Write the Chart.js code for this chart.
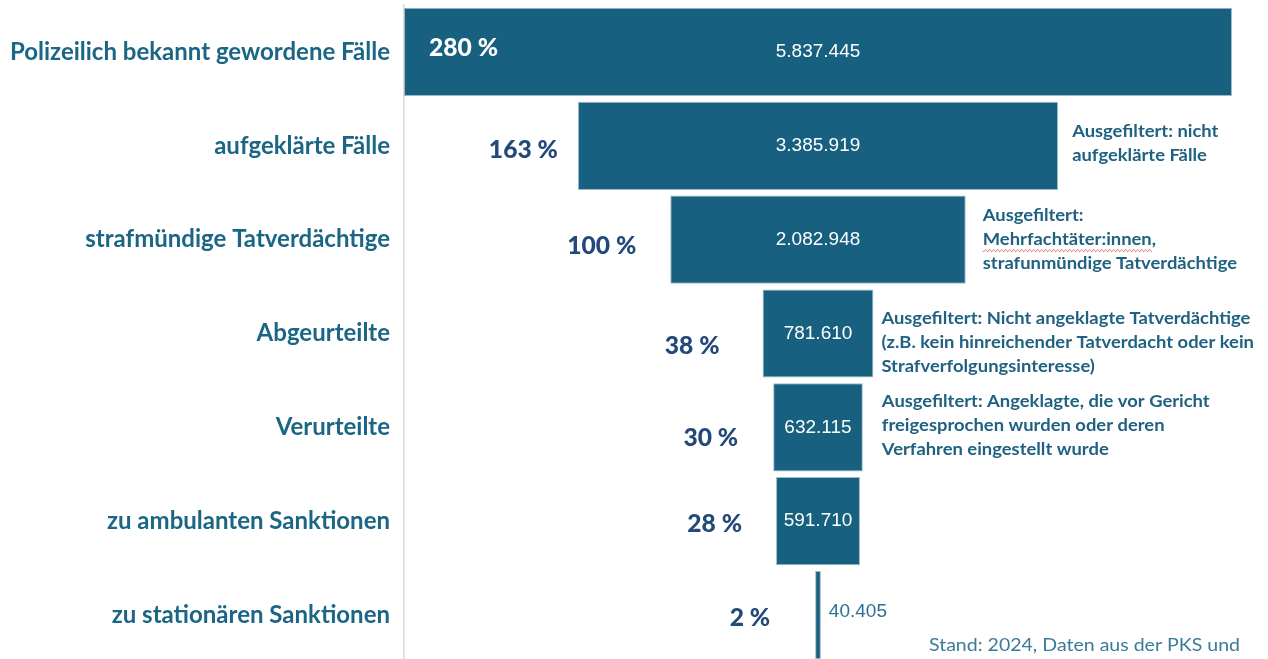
<!DOCTYPE html>
<html>
<head>
<meta charset="utf-8">
<script src="https://cdn.jsdelivr.net/npm/chart.js@4"></script>
<style>
  html, body { margin: 0; padding: 0; background: #ffffff; overflow: hidden; }
  canvas { display: block; }
</style>
</head>
<body>
<canvas id="c" width="1268" height="662"></canvas>
<script>
// ---- data ----
const categories = [
  'Polizeilich bekannt gewordene Fälle',
  'aufgeklärte Fälle',
  'strafmündige Tatverdächtige',
  'Abgeurteilte',
  'Verurteilte',
  'zu ambulanten Sanktionen',
  'zu stationären Sanktionen'
];
const counts = [5837445, 3385919, 2082948, 781610, 632115, 591710, 40405];
const percentLabels = ['280 %', '163 %', '100 %', '38 %', '30 %', '28 %', '2 %'];
const notes = [
  [],
  ['Ausgefiltert: nicht', 'aufgeklärte Fälle'],
  ['Ausgefiltert:', 'Mehrfachtäter:innen,', 'strafunmündige Tatverdächtige'],
  ['Ausgefiltert: Nicht angeklagte Tatverdächtige', '(z.B. kein hinreichender Tatverdacht oder kein', 'Strafverfolgungsinteresse)'],
  ['Ausgefiltert: Angeklagte, die vor Gericht', 'freigesprochen wurden oder deren', 'Verfahren eingestellt wurde'],
  [],
  []
];
const sourceNote = 'Stand: 2024, Daten aus der PKS und';

// ---- styling (layout offsets per row) ----
const pctGap = [0, 20, 34, 43, 35, 34, 45];
const pctDy = [-4, 4, 6, 12, 11, 3, 3];
const noteGap = [0, 14, 17, 8, 19, 0, 0];
const noteDy = [0, -2, 0, 9, -2, 0, 0];

const BAR = '#17607f';
const LABEL = '#1b6585';
const PCT = '#22497a';
const NOTE = '#1f6180';

function fmt(n) {
  return String(n).replace(/\B(?=(\d{3})+(?!\d))/g, '.');
}

const floating = counts.map(v => [-v / 2, v / 2]);
const half = counts[0] / 2;

function scaledText(ctx, text, x, y, align, sx) {
  ctx.save();
  ctx.translate(x, y);
  ctx.scale(sx, 1);
  ctx.textAlign = align;
  ctx.fillText(text, 0, 0);
  ctx.restore();
}

const labelPlugin = {
  id: 'funnelLabels',
  afterDatasetsDraw(chart) {
    const ctx = chart.ctx;
    const meta = chart.getDatasetMeta(0);
    ctx.save();
    ctx.textBaseline = 'middle';

    ctx.font = 'bold 17px Lato';
    const noteSx = 369 / ctx.measureText(notes[3][0]).width;

    ctx.font = '900 25px Lato';
    const pctSx = 69 / ctx.measureText(percentLabels[1]).width;

    meta.data.forEach((bar, i) => {
      const left = Math.min(bar.x, bar.base);
      const right = Math.max(bar.x, bar.base);
      const cy = bar.y;
      const width = right - left;

      // value label
      ctx.font = '19px "Liberation Sans", Arial, sans-serif';
      const vt = fmt(counts[i]);
      if (width > ctx.measureText(vt).width + 6) {
        ctx.fillStyle = '#ffffff';
        ctx.textAlign = 'center';
        ctx.fillText(vt, (left + right) / 2, cy);
      } else {
        ctx.fillStyle = '#2e7091';
        ctx.textAlign = 'left';
        ctx.fillText(vt, right + 8, cy - 3);
      }

      // percent label
      ctx.font = '900 25px Lato';
      if (i === 0) {
        ctx.fillStyle = '#ffffff';
        scaledText(ctx, percentLabels[i], left + 25, cy + pctDy[i], 'left', pctSx);
      } else {
        ctx.fillStyle = PCT;
        scaledText(ctx, percentLabels[i], left - pctGap[i], cy + pctDy[i], 'right', pctSx);
      }

      // notes
      const lines = notes[i];
      if (lines.length) {
        ctx.font = 'bold 17px Lato';
        ctx.fillStyle = NOTE;
        const lh = 24;
        const y0 = cy + noteDy[i] - (lines.length - 1) * lh / 2;
        lines.forEach((t, k) => {
          const tx = right + noteGap[i];
          const ty = y0 + k * lh;
          scaledText(ctx, t, tx, ty, 'left', noteSx);
          if (t.indexOf('Mehrfachtäter') === 0) {
            const w = ctx.measureText(t.replace(',', '')).width * noteSx;
            ctx.save();
            ctx.strokeStyle = '#e46c6c';
            ctx.lineWidth = 1;
            ctx.beginPath();
            for (let px = 0; px <= w; px += 1) {
              const yy = ty + 11 + Math.sin(px * Math.PI / 2) * 1.2;
              if (px === 0) ctx.moveTo(tx + px, yy); else ctx.lineTo(tx + px, yy);
            }
            ctx.stroke();
            ctx.restore();
          }
        });
      }
    });

    // source note
    ctx.font = '17px Lato';
    ctx.fillStyle = '#3b7b9a';
    const srcSx = 311 / ctx.measureText(sourceNote).width;
    scaledText(ctx, sourceNote, 929, 646, 'left', srcSx);

    ctx.restore();
  }
};

new Chart(document.getElementById('c'), {
  type: 'bar',
  data: {
    labels: categories,
    datasets: [{
      data: floating,
      backgroundColor: BAR,
      borderColor: '#9dbccc',
      borderWidth: 1,
      borderSkipped: false,
      categoryPercentage: 1.0,
      barPercentage: 0.94
    }]
  },
  options: {
    indexAxis: 'y',
    responsive: false,
    animation: false,
    layout: { padding: { top: 5, right: 36, bottom: 0, left: 0 } },
    plugins: {
      legend: { display: false },
      tooltip: { enabled: false }
    },
    scales: {
      x: {
        display: false,
        min: -half,
        max: half
      },
      y: {
        afterFit(scale) {
          scale.width = 404;
          scale.paddingTop = 0;
          scale.paddingBottom = 0;
        },
        grid: { display: false, drawTicks: false },
        border: { display: true, color: '#d9d9d9', width: 1.5 },
        ticks: {
          padding: 14,
          color: LABEL,
          font: { family: 'Lato', size: 24, weight: 'bold' }
        }
      }
    }
  },
  plugins: [labelPlugin]
});
</script>
</body>
</html>
